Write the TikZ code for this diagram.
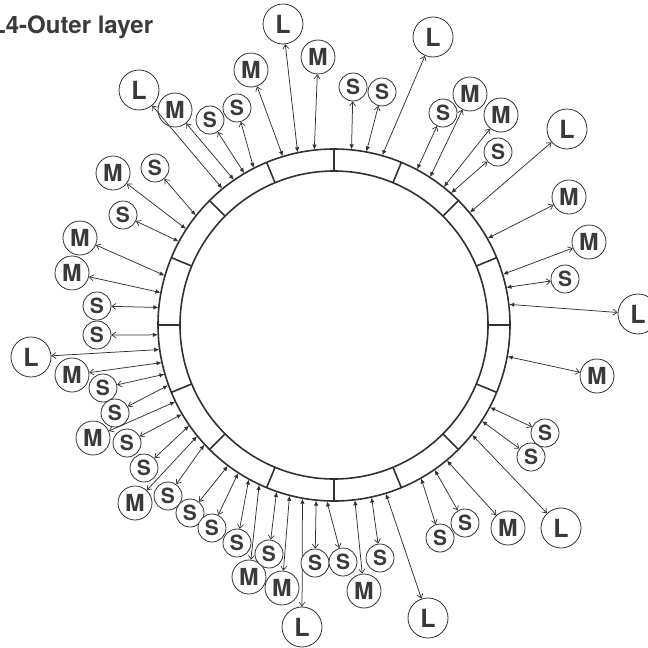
\documentclass[tikz,border=0pt]{standalone}
\usepackage{fontspec}
\setmainfont{TeX Gyre Heros}
\usetikzlibrary{arrows.meta,calc}
\definecolor{ink}{HTML}{2E3237}
\definecolor{txt}{HTML}{3A3A3A}
\begin{document}
\begin{tikzpicture}[x=1pt,y=-1pt,
  ringline/.style={draw=ink,line width=1.6pt},
  divider/.style={draw=ink,line width=1.6pt},
  bub/.style={circle,draw=ink,line width=0.8pt,fill=white,inner sep=0pt,text=txt},
  bubL/.style={bub,minimum size=40pt,font=\fontsize{25}{25}\selectfont\bfseries},
  bubM/.style={bub,minimum size=34pt,font=\fontsize{23.5}{23.5}\selectfont\bfseries},
  bubS/.style={bub,minimum size=28pt,font=\fontsize{21}{21}\selectfont\bfseries},
  pinline/.style={draw=ink,line width=0.75pt,{Straight Barb[length=4pt,width=6pt,line width=0.7pt]}-{Latex[length=5pt,width=4.5pt]}}
]
\useasboundingbox (0,0) rectangle (648,648);
\coordinate (c) at (334,325);
\draw[ringline] (c) circle[radius=176pt];
\draw[ringline] (c) circle[radius=154pt];
\foreach \k in {0,...,15}
  \draw[divider] ($(c)+(\k*22.5:154pt)$) -- ($(c)+(\k*22.5:176pt)$);
\node[anchor=base west,text=txt,inner sep=0pt,font=\fontsize{24}{24}\selectfont\bfseries] (title) at (-9,33.5) {L4-Outer layer};
\foreach \t/\x/\y/\a [count=\i] in {
L/283/24/101.9, M/318/57/96.4, M/251/70/106.9, S/353/87/84.3, S/382/92/79.4,
L/433/37/74.1, S/237/108/117.1, S/210/120/120.6, M/175/110/124.6, L/139/90/129.3,
S/155/168/141.6, M/113/173/147.0, S/123/215/151.7, M/80/238/163.7, M/72/273/169.4,
S/97/306/174.3, S/97/335/183.2, L/31/357/188.0, M/72/375/192.3, S/103/388/196.2,
S/115/413/200.0, M/93/438/205.8, S/127/443/210.4, S/144/468/214.8, M/135/503/219.1,
S/168/496/222.7, S/190/513/233.0, S/212/528/237.1, S/237/543/241.1, M/249/577/244.9,
S/269/554/251.0, M/282/588/255.4, L/302/627/259.7, S/315/563/264.2, S/343/562/267.7,
M/364/591/276.8, S/380/558/282.3, L/428/618/287.1, S/440/538/299.6, S/465/523/304.8,
M/508/528/309.8, L/561/528/321.5, S/531/457/327.0, S/545/433/332.2, M/597/376/349.7,
L/638/314/6.7, S/565/279/12.3, M/589/242/16.7, M/569/197/29.4, L/567/129/39.6,
S/498/152/48.4, M/501/115/51.5, M/470/94/57.0, S/443/113/61.9}
{
  \node[bub\t] (p\i) at (\x,\y) {\t};
  \coordinate (a\i) at ($(c)+(\a:176.5pt)$);
  \draw[pinline] (p\i) -- (a\i);
}
\end{tikzpicture}
\end{document}
